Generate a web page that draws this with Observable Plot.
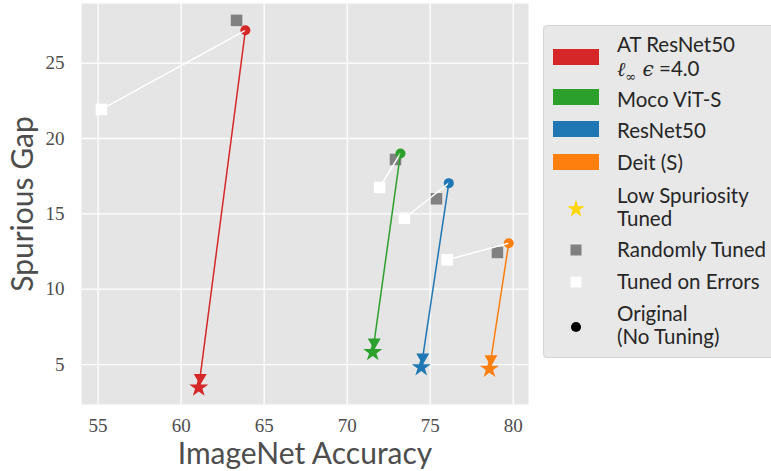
<!DOCTYPE html>
<html><head><meta charset="utf-8">
<script src="https://cdn.jsdelivr.net/npm/d3@7"></script>
<script src="https://cdn.jsdelivr.net/npm/@observablehq/plot@0.6"></script>
<style>
html,body{margin:0;padding:0;background:#fff;overflow:hidden;}
#wrap{position:relative;width:771px;height:471px;}
#legend{position:absolute;left:543px;top:25px;width:250px;height:333px;background:#e8e8e8;border:1px solid #d4d4d4;border-radius:4px;box-sizing:border-box;}
.txt{position:absolute;left:73px;font-family:Lato,"Noto Sans",sans-serif;font-size:20.5px;color:#262626;line-height:24px;white-space:nowrap;}
.patch{position:absolute;left:9px;width:46px;height:16px;}
.mk{position:absolute;left:0;top:0;overflow:visible;}
.math{font-family:"DejaVu Serif",serif;font-style:italic;font-size:20px;}
</style></head><body><div id="wrap"><div id="legend"></div></div>
<script>
const models = ["AT ResNet50", "Moco ViT-S", "ResNet50", "Deit (S)"];
const colors = ["#d62728", "#2ca02c", "#1f77b4", "#ff7f0e"];
const origAcc = [63.87, 73.21, 76.12, 79.73];
const origGap = [27.18, 19.01, 17.04, 13.05];
const randAcc = [63.34, 72.91, 75.38, 79.05];
const randGap = [27.84, 18.61, 16.00, 12.44];
const errAcc = [55.20, 71.95, 73.45, 76.02];
const errGap = [21.93, 16.75, 14.71, 11.95];
const lowAcc = [61.06, 71.54, 74.46, 78.57];
const lowGap = [3.47, 5.82, 4.82, 4.71];
const xTicks = [55, 60, 65, 70, 75, 80];
const yTicks = [5, 10, 15, 20, 25];
const markerLabels = ["Low Spuriosity\nTuned", "Randomly Tuned", "Tuned on Errors", "Original\n(No Tuning)"];

const rows = models.map((m, i) => ({
  model: m, color: colors[i],
  origAcc: origAcc[i], origGap: origGap[i],
  randAcc: randAcc[i], randGap: randGap[i],
  errAcc: errAcc[i], errGap: errGap[i],
  lowAcc: lowAcc[i], lowGap: lowGap[i]
}));

const triDown = {
  draw(ctx, size) {
    const y = -Math.sqrt(size / (Math.sqrt(3) * 3));
    ctx.moveTo(0, -y * 2);
    ctx.lineTo(-Math.sqrt(3) * y, y);
    ctx.lineTo(Math.sqrt(3) * y, y);
    ctx.closePath();
  }
};

const tickFont = "'Liberation Serif', 'DejaVu Serif', serif";
const sansFont = "Lato, 'Noto Sans', sans-serif";

const chart = Plot.plot({
  width: 771, height: 471,
  marginLeft: 81, marginRight: 243, marginTop: 3, marginBottom: 67,
  x: {domain: [54.0, 80.92]},
  y: {domain: [2.35, 28.96]},
  color: {type: "identity"},
  style: {background: "transparent", overflow: "visible"},
  marks: [
    Plot.frame({fill: "#e5e5e5", stroke: null}),
    Plot.gridX(xTicks, {stroke: "white", strokeOpacity: 1, strokeWidth: 1.3}),
    Plot.gridY(yTicks, {stroke: "white", strokeOpacity: 1, strokeWidth: 1.3}),
    Plot.axisX(xTicks, {tickSize: 0, tickPadding: 14, fontSize: 19, fontFamily: tickFont, color: "#4d4d4d", label: null}),
    Plot.axisY(yTicks, {tickSize: 0, tickPadding: 17, fontSize: 19, fontFamily: tickFont, color: "#4d4d4d", label: null}),
    Plot.dot(rows, {x: "randAcc", y: "randGap", symbol: "square", r: 6.5, fill: "#808080"}),
    Plot.dot(rows, {x: "errAcc", y: "errGap", symbol: "square", r: 6.5, fill: "white"}),
    Plot.dot(rows, {x: "origAcc", y: "origGap", r: 5, fill: "color"}),
    Plot.link(rows, {x1: "origAcc", y1: "origGap", x2: "errAcc", y2: "errGap", stroke: "white", strokeWidth: 1.5}),
    Plot.link(rows, {x1: "origAcc", y1: "origGap", x2: "lowAcc", y2: "lowGap", stroke: "color", strokeWidth: 1.5}),
    Plot.dot(rows, {x: "lowAcc", y: "lowGap", symbol: triDown, r: 4.8, fill: "color", dx: 1.5, dy: -10}),
    Plot.dot(rows, {x: "lowAcc", y: "lowGap", symbol: "star", r: 6, fill: "color"}),
    Plot.text(["ImageNet Accuracy"], {frameAnchor: "bottom", textAnchor: "middle", lineAnchor: "middle", dy: 50, fontSize: 30, fontFamily: sansFont, fill: "#4d4d4d"}),
    Plot.text(["Spurious Gap"], {frameAnchor: "left", textAnchor: "middle", lineAnchor: "middle", dx: -58, rotate: -90, fontSize: 30, fontFamily: sansFont, fill: "#4d4d4d"})
  ]
});
document.getElementById("wrap").prepend(chart);

// Legend
const leg = document.getElementById("legend");
const patchTops = [23, 63, 95, 128];
const textTops = [6, 61, 92, 124];
models.forEach((m, i) => {
  const p = document.createElement("div");
  p.className = "patch";
  p.style.top = patchTops[i] + "px";
  p.style.background = colors[i];
  leg.appendChild(p);
  const t = document.createElement("div");
  t.className = "txt";
  t.style.top = textTops[i] + "px";
  if (i === 0) {
    t.innerHTML = m + '<br><span class="math">ℓ<sub style="font-size:13px;font-style:normal">∞</sub> ϵ</span> =4.0';
  } else t.textContent = m;
  leg.appendChild(t);
});
const mTextTops = [158, 212, 244, 276];
const mCenters = [183, 224, 256, 301];
const mSyms = [d3.symbolStar, d3.symbolSquare, d3.symbolSquare, d3.symbolCircle];
const mSizes = [95, 121, 121, 80];
const mFills = ["#ffd700", "#808080", "#ffffff", "#000000"];
markerLabels.forEach((lab, i) => {
  const t = document.createElement("div");
  t.className = "txt";
  t.style.top = mTextTops[i] + "px";
  t.style.lineHeight = "23px";
  t.innerHTML = lab.replace("\n", "<br>");
  leg.appendChild(t);
  const svg = d3.create("svg").attr("class", "mk").attr("width", 1).attr("height", 1);
  svg.append("path")
    .attr("d", d3.symbol(mSyms[i], mSizes[i])())
    .attr("transform", `translate(32,${mCenters[i]})`)
    .attr("fill", mFills[i]);
  leg.appendChild(svg.node());
});
</script></body></html>
